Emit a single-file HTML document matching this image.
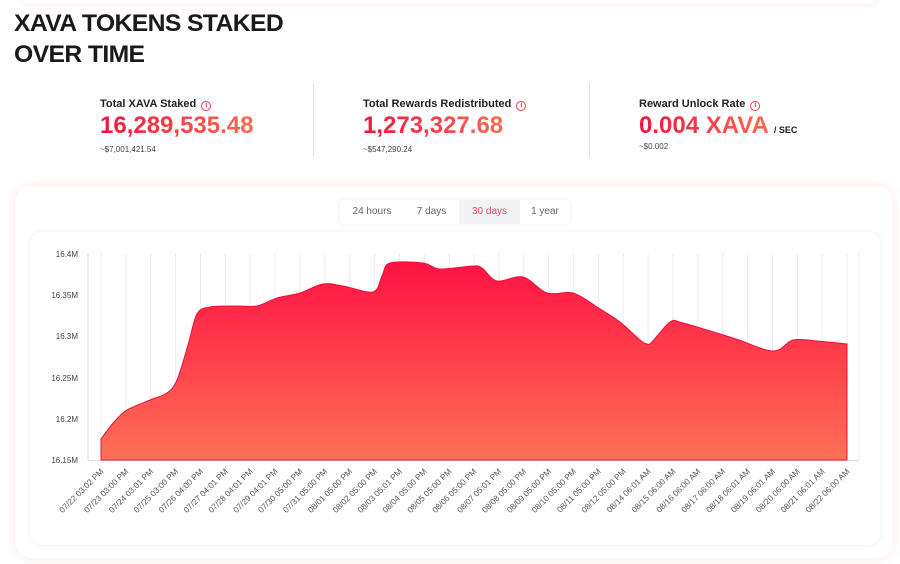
<!DOCTYPE html>
<html><head><meta charset="utf-8"><style>
*{margin:0;padding:0;box-sizing:border-box}
body{width:900px;height:564px;background:#fff;font-family:"Liberation Sans",sans-serif;position:relative;overflow:hidden;color:#1c1c1c}
.top{position:absolute;left:20px;top:-20px;width:860px;height:24px;border-radius:12px;box-shadow:0 2px 6px rgba(255,120,110,.12)}
h1{position:absolute;left:14px;top:8px;font-size:24px;line-height:31px;font-weight:900;letter-spacing:-0.6px;color:#1a1a1a;transform:scaleX(1.03);transform-origin:left}
.st{position:absolute;top:98px}
.st .l{font-size:11px;font-weight:bold;color:#222}
.st .l i{display:inline-block;width:10px;height:10px;border:1px solid #f03a4d;border-radius:50%;color:#f03a4d;font-size:7px;font-style:normal;text-align:center;line-height:8px;margin-left:5px;vertical-align:0}
.st .v{font-size:24px;font-weight:bold;margin-top:1px;background:linear-gradient(90deg,#f0143e,#ff6a50);-webkit-background-clip:text;background-clip:text;color:transparent;display:inline-block}
.st .s{font-size:8px;color:#444;margin-top:5px}
.div{position:absolute;top:84px;width:1px;height:72px;background:#e2e2e2}
.card{position:absolute;left:15px;top:186px;width:878px;height:372px;border-radius:16px;box-shadow:0 0 10px rgba(255,140,130,.22);background:#fff}
.tabs{position:absolute;left:340px;top:200px;height:24px;display:flex;border-radius:4px;box-shadow:0 0 4px rgba(0,0,0,.08);font-size:10px;color:#666}
.tabs div{line-height:24px;text-align:center}
.inner{position:absolute;left:30px;top:232px;width:850px;height:313px;border-radius:12px;box-shadow:0 0 6px rgba(0,0,0,.07);background:#fff}
</style></head><body>
<div class="top"></div>
<h1>XAVA TOKENS STAKED<br>OVER TIME</h1>
<div class="st" style="left:100px"><div class="l">Total XAVA Staked<i>i</i></div><div class="v">16,289,535.48</div><div class="s">~$7,001,421.54</div></div>
<div class="div" style="left:313px"></div>
<div class="st" style="left:363px"><div class="l">Total Rewards Redistributed<i>i</i></div><div class="v">1,273,327.68</div><div class="s">~$547,290.24</div></div>
<div class="div" style="left:589px"></div>
<div class="st" style="left:639px"><div class="l">Reward Unlock Rate<i>i</i></div><div class="v">0.004 XAVA</div><span style="font-size:9px;font-weight:900;margin-left:5px">/ SEC</span><div class="s" style="margin-top:2px">~$0.002</div></div>
<div class="card"></div>
<div class="tabs"><div style="width:64px">24 hours</div><div style="width:55px">7 days</div><div style="width:61px;background:#f3f3f5;color:#e84a5f">30 days</div><div style="width:50px">1 year</div></div>
<div class="inner"></div>
<svg style="position:absolute;left:0;top:0" width="900" height="564" font-family="Liberation Sans, sans-serif">
<defs><linearGradient id="g" x1="0" y1="0" x2="0" y2="1"><stop offset="0" stop-color="#ff1242"/><stop offset="1" stop-color="#ff7055"/></linearGradient></defs>
<g id="grid" stroke="#ececf0" stroke-width="1"></g>
<line x1="88" y1="254" x2="88" y2="461" stroke="#dedee6"/>
<line x1="88" y1="460.5" x2="859" y2="460.5" stroke="#dedee6"/>
<path id="area" fill="url(#g)" stroke="#e8103c" stroke-width="1"/>
<g font-size="8" fill="#444" text-anchor="end">
<text x="78" y="257">16.4M</text><text x="78" y="298">16.35M</text><text x="78" y="339">16.3M</text><text x="78" y="381">16.25M</text><text x="78" y="422">16.2M</text><text x="78" y="463">16.15M</text>
</g>
<g id="xl" font-size="8.3" fill="#555" text-anchor="end"></g>
</svg>
<script>
var pts=[[101,439],[114,422],[127,410],[150,400],[167,393],[177,380],[188,345],[197,314],[210,307],[237,306],[257,306],[277,298],[300,293],[323,284],[343,286],[373,292],[382,276],[390,263],[423,263],[440,269],[473,266],[482,268],[497,281],[523,277],[547,293],[573,293],[597,307],[620,322],[640,340],[647,344],[652,342],[670,322],[683,323],[733,338],[773,351],[793,340],[817,341],[847,344]];
function cr(p){var d="M"+p[0][0]+","+p[0][1];for(var i=0;i<p.length-1;i++){var p0=p[i-1]||p[i],p1=p[i],p2=p[i+1],p3=p[i+2]||p2;var t=0.16;d+=" C"+(p1[0]+(p2[0]-p0[0])*t)+","+(p1[1]+(p2[1]-p0[1])*t)+" "+(p2[0]-(p3[0]-p1[0])*t)+","+(p2[1]-(p3[1]-p1[1])*t)+" "+p2[0]+","+p2[1];}return d;}
document.getElementById('area').setAttribute('d',cr(pts)+" L847,460 L101,460 Z");
var d0=["07/22 03:02 PM","07/23 03:00 PM","07/24 03:01 PM","07/25 03:00 PM","07/26 04:00 PM","07/27 04:01 PM","07/28 04:01 PM","07/29 04:01 PM","07/30 05:00 PM","07/31 05:00 PM","08/01 05:00 PM","08/02 05:00 PM","08/03 05:01 PM","08/04 05:00 PM","08/05 05:00 PM","08/06 05:00 PM","08/07 05:01 PM","08/08 05:00 PM","08/09 05:00 PM","08/10 05:00 PM","08/11 05:00 PM","08/12 05:00 PM","08/14 06:01 AM","08/15 06:00 AM","08/16 06:00 AM","08/17 06:00 AM","08/18 06:01 AM","08/19 06:01 AM","08/20 06:00 AM","08/21 06:01 AM","08/22 06:00 AM"];
var g=document.getElementById('grid'),xl=document.getElementById('xl'),ns="http://www.w3.org/2000/svg";
for(var i=0;i<d0.length;i++){var x=101+i*24.87;var l=document.createElementNS(ns,'line');l.setAttribute('x1',x);l.setAttribute('x2',x);l.setAttribute('y1',254);l.setAttribute('y2',460);g.appendChild(l);
var t=document.createElementNS(ns,'text');t.setAttribute('transform','translate('+(x+3)+',472) rotate(-45)');t.textContent=d0[i];xl.appendChild(t);}
var l2=document.createElementNS(ns,'line');l2.setAttribute('x1',859);l2.setAttribute('x2',859);l2.setAttribute('y1',254);l2.setAttribute('y2',460);g.appendChild(l2);
</script>
</body></html>
